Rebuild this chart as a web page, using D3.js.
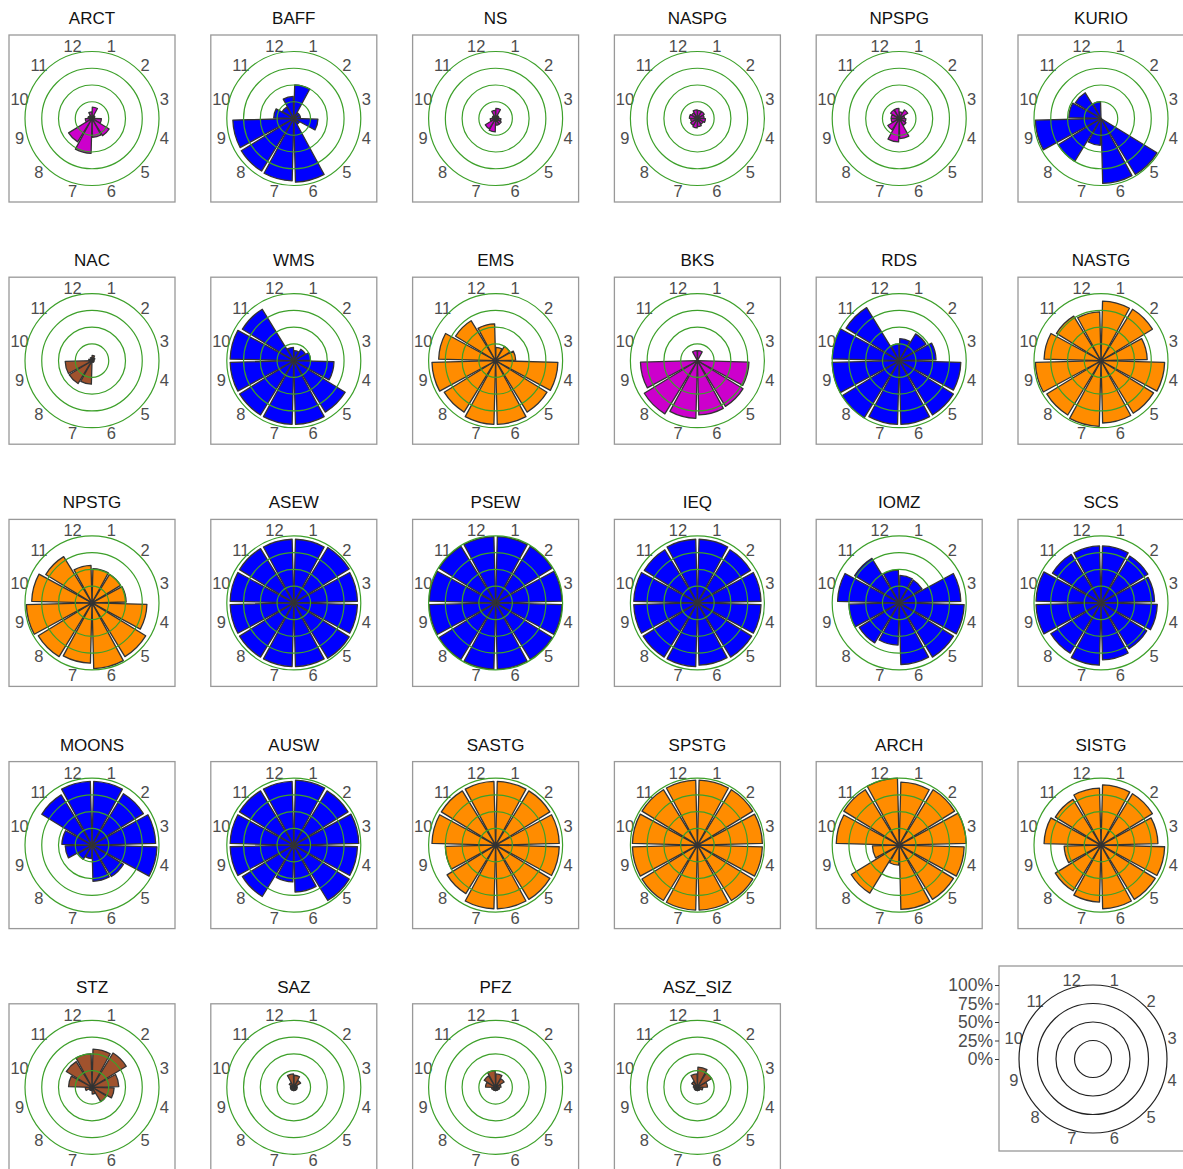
<!DOCTYPE html>
<html><head><meta charset="utf-8">
<script src="https://cdn.jsdelivr.net/npm/d3@7"></script>
<style>body{margin:0;background:#fff}svg{display:block}</style>
</head><body>
<script>
const months = [1,2,3,4,5,6,7,8,9,10,11,12];
const radialTicks = [0, 0.25, 0.5, 0.75, 1];
const radialTickLabels = ["0%","25%","50%","75%","100%"];
const regions = ["ARCT","BAFF","NS","NASPG","NPSPG","KURIO","NAC","WMS","EMS","BKS","RDS","NASTG","NPSTG","ASEW","PSEW","IEQ","IOMZ","SCS","MOONS","AUSW","SASTG","SPSTG","ARCH","SISTG","STZ","SAZ","PFZ","ASZ_SIZ"];
const groups  = ["m","b","m","m","m","b","s","b","o","m","b","o","o","b","b","b","b","b","b","b","o","o","o","o","s","s","s","s"];
const groupColors = {m:"#CC00CC", b:"#0000FF", o:"#FF8C00", s:"#A0522D"};

const ARCT   = [0.17,0.05,0.04,0.14,0.30,0.28,0.52,0.41,0.10,0.06,0.05,0.10];
const BAFF   = [0.50,0.10,0.10,0.36,0.10,0.95,0.93,0.92,0.91,0.30,0.20,0.33];
const NS     = [0.15,0.05,0.05,0.08,0.10,0.10,0.20,0.18,0.08,0.05,0.05,0.12];
const NASPG  = [0.12,0.12,0.10,0.12,0.10,0.12,0.14,0.12,0.10,0.12,0.10,0.13];
const NPSPG  = [0.10,0.15,0.08,0.10,0.12,0.30,0.35,0.20,0.12,0.12,0.15,0.15];
const KURIO  = [0.00,0.00,0.00,0.00,0.98,0.97,0.40,0.75,0.98,0.48,0.45,0.25];
const NAC    = [0.08,0.05,0.03,0.03,0.03,0.02,0.35,0.40,0.40,0.05,0.03,0.05];
const WMS    = [0.15,0.20,0.25,0.60,0.90,0.95,0.95,0.95,0.95,0.95,0.90,0.20];
const EMS    = [0.20,0.25,0.30,0.93,0.90,0.95,0.95,0.90,0.95,0.85,0.70,0.55];
const BKS    = [0.15,0.00,0.00,0.77,0.80,0.81,0.86,0.93,0.85,0.00,0.00,0.15];
const RDS    = [0.33,0.47,0.55,0.92,0.95,0.95,0.95,1.00,1.00,1.00,0.93,0.25];
const NASTG  = [0.89,0.90,0.69,0.95,0.92,0.93,0.98,0.95,0.98,0.85,0.78,0.73];
const NPSTG  = [0.51,0.50,0.51,0.82,0.94,0.98,0.90,0.94,0.98,0.90,0.81,0.56];
const ASEW   = [0.95,0.97,0.95,0.95,0.97,0.95,0.95,0.95,0.95,0.95,0.95,0.95];
const PSEW   = [0.99,0.99,0.99,0.99,0.99,0.99,0.99,0.99,0.99,0.99,0.99,0.99];
const IEQ    = [0.95,0.93,0.95,0.95,0.95,0.93,0.95,0.95,0.95,0.95,0.93,0.95];
const IOMZ   = [0.41,0.40,0.92,0.97,0.95,0.92,0.63,0.70,0.75,0.92,0.78,0.49];
const SCS    = [0.85,0.82,0.80,0.84,0.80,0.85,0.93,0.88,0.97,0.97,0.85,0.85];
const MOONS  = [0.95,0.90,0.95,0.97,0.55,0.54,0.20,0.25,0.40,0.45,0.88,0.95];
const AUSW   = [0.97,0.95,0.97,0.95,0.97,0.70,0.55,0.90,0.95,0.95,0.95,0.95];
const SASTG  = [0.95,0.95,0.95,0.95,0.95,0.95,0.95,0.85,0.75,0.95,0.95,0.95];
const SPSTG  = [0.97,0.97,0.97,0.97,0.97,0.97,0.97,0.97,0.97,0.97,0.97,0.97];
const ARCH   = [0.94,0.97,1.00,0.97,0.95,0.96,0.30,0.84,0.40,0.94,0.97,1.00];
const SISTG  = [0.90,0.90,0.85,0.95,0.95,0.95,0.85,0.80,0.55,0.85,0.80,0.85];
const STZ    = [0.57,0.60,0.40,0.33,0.25,0.10,0.05,0.05,0.10,0.35,0.45,0.50];
const SAZ    = [0.18,0.12,0.05,0.05,0.05,0.05,0.05,0.05,0.05,0.05,0.08,0.20];
const PFZ    = [0.20,0.15,0.08,0.06,0.05,0.05,0.05,0.05,0.06,0.15,0.20,0.25];
const ASZ_SIZ= [0.30,0.25,0.15,0.08,0.05,0.05,0.05,0.05,0.05,0.06,0.10,0.20];

const seriesList = [ARCT,BAFF,NS,NASPG,NPSPG,KURIO,NAC,WMS,EMS,BKS,RDS,NASTG,NPSTG,ASEW,PSEW,IEQ,IOMZ,SCS,MOONS,AUSW,SASTG,SPSTG,ARCH,SISTG,STZ,SAZ,PFZ,ASZ_SIZ];

const W = 1183, H = 1169;
const svg = d3.select("body").append("svg").attr("width", W).attr("height", H);
const FONT = "Liberation Sans, Arial, sans-serif";

const angle = d3.scaleBand().domain(months).range([0, 2*Math.PI]).paddingInner(0.1).paddingOuter(0.05);
const slot = d3.scaleBand().domain(months).range([0, 2*Math.PI]);

function drawPanel(g, cx, cy, rMax, vals, color, ringColor, labelR) {
  const r = d3.scaleLinear().domain([0,1]).range([0, rMax]);
  const arc = d3.arc().innerRadius(0)
    .outerRadius(d => r(d.v))
    .startAngle(d => angle(d.m)).endAngle(d => angle(d.m) + angle.bandwidth());
  g.selectAll("text.month").data(months).join("text")
    .attr("class","month")
    .attr("x", m => cx + labelR*Math.sin(slot(m) + slot.bandwidth()/2))
    .attr("y", m => cy - labelR*Math.cos(slot(m) + slot.bandwidth()/2))
    .attr("text-anchor","middle").attr("dominant-baseline","central")
    .attr("font-family", FONT).attr("font-size", 16.5).attr("fill","#4D4D4D")
    .text(m => m);
  if (vals) {
    g.selectAll("path.bar").data(months.map((m,i)=>({m, v: vals[i]})).filter(d=>d.v>0)).join("path")
      .attr("class","bar")
      .attr("transform", `translate(${cx},${cy})`)
      .attr("d", arc)
      .attr("fill", color).attr("stroke", "#333").attr("stroke-width", 1.3).attr("stroke-linejoin","round");
  }
  g.selectAll("circle.ring").data(radialTicks.slice(1)).join("circle")
    .attr("class","ring")
    .attr("cx", cx).attr("cy", cy).attr("r", d => r(d))
    .attr("fill","none").attr("stroke", ringColor).attr("stroke-width", 1.2);
  return r;
}

regions.forEach((name, i) => {
  const col = i % 6, row = Math.floor(i / 6);
  const left = 9 + col*201.8, top = 35 + row*242.2;
  const g = svg.append("g");
  g.append("rect").attr("x", left).attr("y", top).attr("width", 166).attr("height", 167)
    .attr("fill","#fff").attr("stroke","#999").attr("stroke-width",1.3);
  g.append("text").attr("x", left+83).attr("y", top-11)
    .attr("text-anchor","middle").attr("font-family", FONT).attr("font-size", 17).attr("fill","#111")
    .text(name);
  drawPanel(g, left+83, top+83.5, 67, seriesList[i], groupColors[groups[i]], "#3DA02A", 75);
});

{
  const left = 999, top = 966, cx = 1093, cy = 1059;
  const g = svg.append("g");
  g.append("rect").attr("x", left).attr("y", top).attr("width", 190).attr("height", 185)
    .attr("fill","#fff").attr("stroke","#999").attr("stroke-width",1.3);
  drawPanel(g, cx, cy, 74, null, null, "#222", 82);
  const yAxis = d3.scaleLinear().domain([0,1]).range([cy, cy - 74]);
  const ax = g.append("g").attr("transform", `translate(${left},0)`)
    .call(d3.axisLeft(yAxis).tickValues(radialTicks).tickFormat((d,i)=>radialTickLabels[i]).tickSize(4).tickPadding(2));
  ax.select(".domain").remove();
  ax.selectAll("line").attr("stroke","#333");
  ax.selectAll("text").attr("font-family", FONT).attr("font-size", 17.5).attr("fill","#4D4D4D");
}
</script>
</body></html>
